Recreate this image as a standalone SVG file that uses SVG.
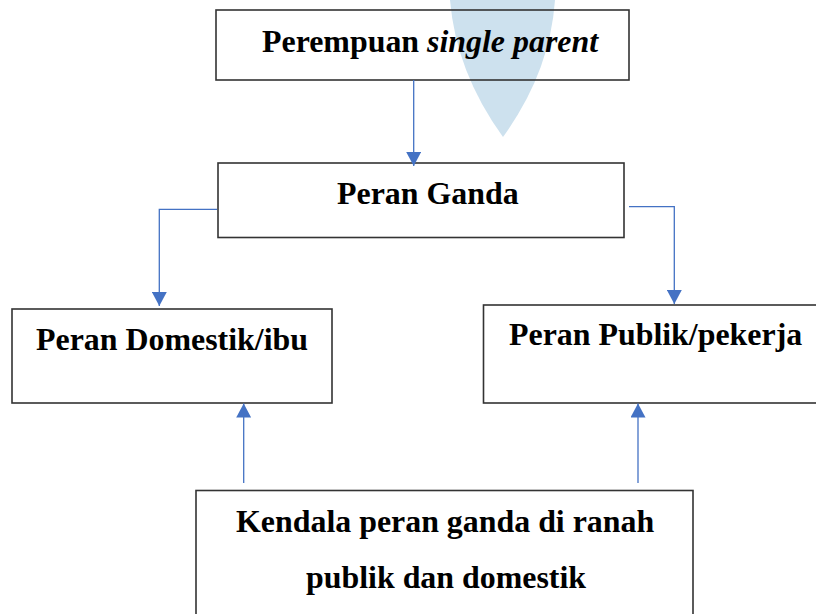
<svg xmlns="http://www.w3.org/2000/svg" width="816" height="614" viewBox="0 0 816 614">
<style>
.box{fill:none;stroke:#333;stroke-width:1.6}
.t{font-family:"Liberation Serif","Times New Roman",serif;font-weight:bold;font-size:31.9px;fill:#000}
.c{fill:none;stroke:#4472C4;stroke-width:1.3}
</style>
<defs>
<marker id="ah" viewBox="0 0 14 15" refX="14" refY="7.5" markerWidth="14" markerHeight="15" markerUnits="userSpaceOnUse" orient="auto">
<path d="M0,0 L14,7.5 L0,15 Z" fill="#4472C4"/>
</marker>
</defs>
<rect width="816" height="614" fill="#fff"/>
<path d="M450,0 L555,0 Q550,72 503,137 Q456,72 450,0 Z" fill="#cde1ee"/>
<g id="n1"><rect class="box" x="216" y="10" width="413" height="70"/>
<text class="t" x="262" y="52">Perempuan <tspan font-style="italic">single parent</tspan></text></g>
<g id="n2"><rect class="box" x="218" y="163" width="406" height="74.5"/>
<text class="t" x="337" y="203.5">Peran Ganda</text></g>
<g id="n3"><rect class="box" x="12" y="309" width="320" height="94"/>
<text class="t" x="36" y="350">Peran Domestik/ibu</text></g>
<g id="n4"><rect class="box" x="483.5" y="305" width="340" height="98"/>
<text class="t" x="509" y="345">Peran Publik/pekerja</text></g>
<g id="n5"><rect class="box" x="196" y="490.5" width="497" height="130"/>
<text class="t" x="236" y="531.5">Kendala peran ganda di ranah</text>
<text class="t" x="306" y="588">publik dan domestik</text></g>
<g id="connectors">
<path class="c" d="M413.7,80 L413.7,166" marker-end="url(#ah)"/>
<path class="c" d="M217,209.3 H159.3 V306" marker-end="url(#ah)"/>
<path class="c" d="M629,206.7 H674.3 V304" marker-end="url(#ah)"/>
<path class="c" d="M243.7,483 V403.5" marker-end="url(#ah)"/>
<path class="c" d="M638,483 V403.5" marker-end="url(#ah)"/>
</g>
</svg>
